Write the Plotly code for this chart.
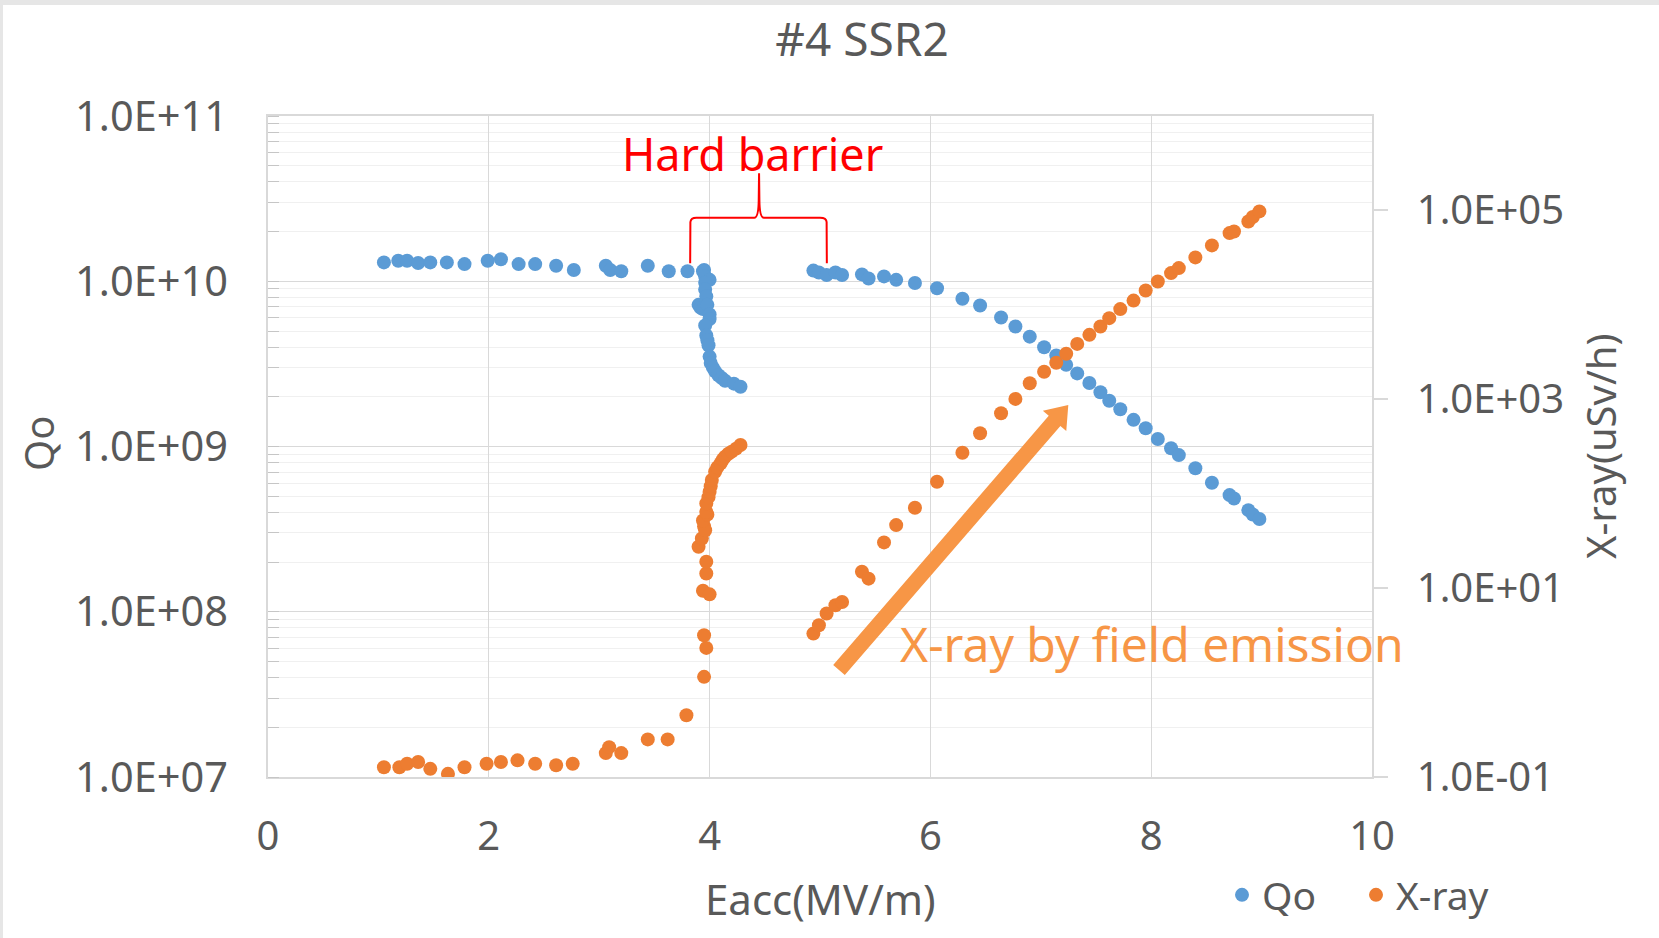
import math
import plotly.graph_objects as go

# ---- measured data ----------------------------------------------------
# Qo versus accelerating field
eacc_qo = [1.05, 1.18, 1.26, 1.36, 1.47, 1.62, 1.78, 1.99, 2.11, 2.27, 2.42, 2.61, 2.77,
           3.06, 3.10, 3.20, 3.44, 3.63, 3.80,
           3.95, 3.94, 3.96, 4.00, 3.96, 3.96, 3.97, 3.90, 3.92, 3.94, 3.98, 4.00, 4.00,
           3.96, 3.97, 3.98, 3.99, 4.00, 4.01, 4.03, 4.05, 4.08, 4.11, 4.14, 4.22, 4.28,
           4.94, 4.99, 5.06, 5.14, 5.20, 5.38, 5.44, 5.58, 5.69, 5.86, 6.06, 6.29, 6.45,
           6.64, 6.77, 6.90, 7.03, 7.14, 7.23, 7.33, 7.44, 7.54, 7.62, 7.72, 7.84, 7.95,
           8.06, 8.18, 8.25, 8.40, 8.55, 8.71, 8.75, 8.88, 8.92, 8.98]
qo = [1.30e10, 1.33e10, 1.33e10, 1.29e10, 1.30e10, 1.30e10, 1.27e10, 1.33e10, 1.36e10,
      1.27e10, 1.27e10, 1.24e10, 1.17e10, 1.24e10, 1.17e10, 1.15e10, 1.24e10, 1.15e10,
      1.15e10,
      1.17e10, 1.15e10, 1.07e10, 1.02e10, 9.8e9, 8.9e9, 8.1e9, 7.2e9, 6.9e9, 6.8e9,
      7.2e9, 6.3e9, 5.9e9, 5.4e9, 4.7e9, 4.4e9, 4.1e9, 3.5e9, 3.2e9, 3.0e9, 2.85e9,
      2.7e9, 2.6e9, 2.5e9, 2.4e9, 2.3e9,
      1.16e10, 1.13e10, 1.09e10, 1.13e10, 1.09e10, 1.10e10, 1.04e10, 1.07e10, 1.02e10,
      9.75e9, 9.08e9, 7.83e9, 7.13e9, 6.03e9, 5.32e9, 4.62e9, 3.99e9, 3.55e9, 3.12e9,
      2.77e9, 2.42e9, 2.13e9, 1.89e9, 1.68e9, 1.45e9, 1.29e9, 1.11e9, 9.75e8, 8.87e8,
      7.38e8, 6.04e8, 5.08e8, 4.85e8, 4.12e8, 3.88e8, 3.64e8]

# X-ray dose rate versus accelerating field
eacc_xray = [1.05, 1.19, 1.26, 1.36, 1.47, 1.63, 1.78, 1.98, 2.11, 2.26, 2.42, 2.61, 2.76,
             3.06, 3.09, 3.20, 3.44, 3.62, 3.79,
             3.95, 3.97, 3.95, 3.94, 4.00, 3.97, 3.97, 3.90, 3.93, 3.95, 3.96, 3.94, 3.98,
             3.97, 3.97, 3.99, 4.00, 4.01, 4.02, 4.05, 4.07, 4.10, 4.12, 4.14, 4.17, 4.20,
             4.24, 4.28,
             4.94, 4.99, 5.06, 5.14, 5.20, 5.38, 5.44, 5.58, 5.69, 5.86, 6.06, 6.29, 6.45,
             6.64, 6.77, 6.90, 7.03, 7.14, 7.23, 7.33, 7.44, 7.54, 7.62, 7.72, 7.84, 7.95,
             8.06, 8.18, 8.25, 8.40, 8.55, 8.71, 8.75, 8.88, 8.92, 8.98]
xray = [0.127, 0.127, 0.138, 0.144, 0.122, 0.108, 0.127, 0.138, 0.144, 0.150, 0.138,
        0.133, 0.138, 0.179, 0.207, 0.179, 0.250, 0.250, 0.450,
        1.15, 2.33, 3.17, 9.4, 8.6, 14.3, 19.0, 27.4, 33.6, 45, 41, 52, 60, 64, 79, 92,
        105, 120, 140, 171, 190, 210, 230, 247, 265, 279, 300, 328,
        3.30, 4.05, 5.38, 6.59, 7.14, 14.9, 12.6, 30.5, 46.5, 71.0, 134, 272, 437, 711,
        1010, 1480, 1960, 2440, 3030, 3860, 4810, 5890, 7230, 9020, 11100, 14200, 17700,
        21700, 24500, 31800, 42600, 57500, 59800, 76400, 85100, 97700]

# axis ticks
x_ticks = [0, 2, 4, 6, 8, 10]
qo_ticks = [1e7, 1e8, 1e9, 1e10, 1e11]
qo_tick_text = ["1.0E+07", "1.0E+08", "1.0E+09", "1.0E+10", "1.0E+11"]
xray_ticks = [0.1, 10, 1000, 1e5]
xray_tick_text = ["1.0E-01", "1.0E+01", "1.0E+03", "1.0E+05"]

# ---- layout geometry ----------------------------------------------------
W_FIG, H_FIG = 1659, 938
L, R, T, B = 268, 287, 116, 161
PW, PH = W_FIG - L - R, H_FIG - T - B

GRAY_TXT = "#595959"
GRID = "#d9d9d9"
FONT = "Noto Sans"
BLUE = "#5B9BD5"
ORANGE = "#ED7D31"
ARROW = "#F79646"


def px_x(px):
    return (px - L) / PW


def px_y(py):
    return 1 - (py - T) / PH


fig = go.Figure()
fig.add_trace(go.Scatter(x=eacc_qo, y=qo, mode="markers", name="Qo",
                         marker=dict(color=BLUE, size=14, line=dict(width=0)),
                         yaxis="y"))
fig.add_trace(go.Scatter(x=eacc_xray, y=xray, mode="markers", name="X-ray",
                         marker=dict(color=ORANGE, size=14, line=dict(width=0)),
                         yaxis="y2"))

# thick block arrow (pixel geometry -> paper coordinates)
tail = (839.0, 670.0)
tip = (1068.3, 405.0)
dx, dy = tip[0] - tail[0], tip[1] - tail[1]
ln = math.hypot(dx, dy)
ux, uy = dx / ln, dy / ln
nx, ny = -uy, ux
half_shaft, half_head, head_len = 7.7, 15.5, 21.0
neck = (tip[0] - head_len * ux, tip[1] - head_len * uy)
poly = [
    (tail[0] + half_shaft * nx, tail[1] + half_shaft * ny),
    (neck[0] + half_shaft * nx, neck[1] + half_shaft * ny),
    (neck[0] + half_head * nx, neck[1] + half_head * ny),
    tip,
    (neck[0] - half_head * nx, neck[1] - half_head * ny),
    (neck[0] - half_shaft * nx, neck[1] - half_shaft * ny),
    (tail[0] - half_shaft * nx, tail[1] - half_shaft * ny),
]
arrow_path = "M " + " L ".join(f"{px_x(a):.5f},{px_y(b):.5f}" for a, b in poly) + " Z"

# curly brace over the barrier region (x in data units, y in paper units)
yb0, yb1, yb2, yb3 = px_y(263.3), px_y(222.0), px_y(217.7), px_y(173.3)
brace_path = (
    f"M 3.824,{yb0} L 3.826,{yb1} Q 3.830,{yb2} 3.880,{yb2} "
    f"L 4.405,{yb2} Q 4.443,{yb2} 4.445,{px_y(200)} L 4.448,{yb3} "
    f"L 4.451,{px_y(200)} Q 4.453,{yb2} 4.491,{yb2} "
    f"L 5.000,{yb2} Q 5.058,{yb2} 5.060,{yb1} L 5.062,{yb0}"
)

shapes = [
    dict(type="path", xref="paper", yref="paper", path=arrow_path,
         fillcolor=ARROW, line=dict(width=0), layer="above"),
    dict(type="path", xref="x", yref="paper", path=brace_path,
         line=dict(color="#FF0000", width=2), layer="above"),
    # light frame strips along the top and left edge of the canvas
    dict(type="rect", xref="paper", yref="paper", x0=px_x(0), x1=px_x(W_FIG),
         y0=px_y(5), y1=px_y(0), fillcolor="#e6e6e6", line=dict(width=0), layer="below"),
    dict(type="rect", xref="paper", yref="paper", x0=px_x(0), x1=px_x(3),
         y0=px_y(H_FIG), y1=px_y(0), fillcolor="#e6e6e6", line=dict(width=0), layer="below"),
]

annotations = [
    dict(text="Hard barrier", x=4.393, xref="x", y=px_y(153.5), yref="paper",
         showarrow=False, font=dict(family=FONT, size=45, color="#FF0000"),
         xanchor="center", yanchor="middle"),
    dict(text="X-ray by field emission", x=px_x(898), xref="paper", y=px_y(643),
         yref="paper", showarrow=False, font=dict(family=FONT, size=48, color=ARROW),
         xanchor="left", yanchor="middle"),
    dict(text="Eacc(MV/m)", x=px_x(820), xref="paper", y=px_y(898), yref="paper",
         showarrow=False, font=dict(family=FONT, size=42, color=GRAY_TXT),
         xanchor="center", yanchor="middle"),
    dict(text="Qo", x=px_x(38), xref="paper", y=px_y(444), yref="paper",
         showarrow=False, textangle=-90, font=dict(family=FONT, size=40, color=GRAY_TXT),
         xanchor="center", yanchor="middle"),
    dict(text="X-ray(uSv/h)", x=px_x(1600), xref="paper", y=px_y(447), yref="paper",
         showarrow=False, textangle=-90, font=dict(family=FONT, size=40, color=GRAY_TXT),
         xanchor="center", yanchor="middle"),
]

fig.update_layout(
    width=W_FIG, height=H_FIG,
    margin=dict(l=L, r=R, t=T, b=B, autoexpand=False),
    paper_bgcolor="white", plot_bgcolor="white",
    font=dict(family=FONT, color=GRAY_TXT, size=40),
    title=dict(text="#4 SSR2", x=862 / W_FIG, xref="container", xanchor="center",
               y=1 - 40 / H_FIG, yref="container", yanchor="middle",
               font=dict(family=FONT, size=46, color=GRAY_TXT)),
    xaxis=dict(range=[0, 10], tickvals=x_ticks, showgrid=True, gridcolor=GRID,
               gridwidth=1.3, zeroline=False, showline=True, linecolor=GRID,
               linewidth=1.5, mirror=True, ticks="", ticklabelstandoff=23,
               tickfont=dict(family=FONT, size=40, color=GRAY_TXT)),
    yaxis=dict(type="log", range=[7, 11], tickvals=qo_ticks, ticktext=qo_tick_text,
               showgrid=True, gridcolor=GRID, gridwidth=1.3, zeroline=False,
               showline=True, linecolor=GRID, linewidth=1.5, ticks="",
               ticklabelstandoff=30,
               tickfont=dict(family=FONT, size=41.5, color=GRAY_TXT),
               minor=dict(dtick="D1", ticks="inside", ticklen=11, tickcolor="#c6c6c6",
                          tickwidth=1.3, showgrid=True, gridcolor="#f0f0f0",
                          gridwidth=1.2)),
    yaxis2=dict(type="log", range=[-1, 6], overlaying="y", side="right",
                tickvals=xray_ticks, ticktext=xray_tick_text, showgrid=False,
                zeroline=False, showline=True, linecolor=GRID, linewidth=1.5,
                ticks="outside", ticklen=14, tickcolor=GRID, tickwidth=1.5,
                ticklabelstandoff=21,
                tickfont=dict(family=FONT, size=40, color=GRAY_TXT)),
    legend=dict(orientation="h", x=px_x(1222), y=px_y(895), xanchor="left",
                yanchor="middle", font=dict(family=FONT, size=39, color=GRAY_TXT),
                itemwidth=30, entrywidth=89, bgcolor="rgba(0,0,0,0)"),
    shapes=shapes,
    annotations=annotations,
)

fig.write_html("out.html")
